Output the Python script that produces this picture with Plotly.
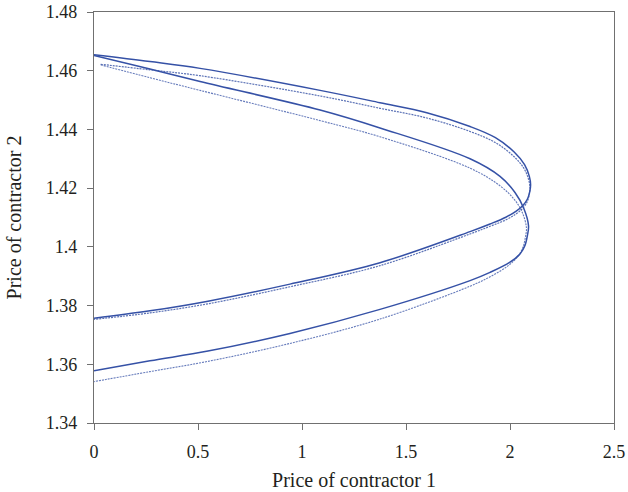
import plotly.graph_objects as go

# Strand A (outer loop, upper strand 1 -> outer tip -> lower band)
outer_a_x = [0.0, 0.269, 0.510, 1.087, 1.375, 1.600, 1.808, 1.930, 2.020, 2.070, 2.093, 2.099,
             2.095, 2.084, 2.062, 2.030, 1.980, 1.904, 1.808, 1.375, 0.942, 0.548, 0.269, 0.0]
outer_a_y = [1.4654, 1.4631, 1.4608, 1.4533, 1.4491, 1.4457, 1.4410, 1.4372, 1.4323, 1.4280, 1.4240, 1.4212,
             1.4188, 1.4163, 1.4141, 1.4122, 1.4101, 1.4078, 1.4052, 1.3946, 1.3873, 1.3815, 1.3782, 1.3757]

# Strand B (outer loop, upper strand 2)
outer_b_x = [0.032, 0.269, 0.510, 1.087, 1.375, 1.600, 1.808, 1.930, 2.020, 2.068, 2.090, 2.096,
             2.092, 2.081, 2.059, 2.027, 1.977, 1.904, 1.808, 1.375, 0.942, 0.548, 0.269, 0.0]
outer_b_y = [1.4622, 1.4603, 1.4583, 1.4514, 1.4472, 1.4439, 1.4393, 1.4355, 1.4307, 1.4266, 1.4228, 1.4200,
             1.4176, 1.4151, 1.4130, 1.4111, 1.4091, 1.4070, 1.4044, 1.3936, 1.3864, 1.3806, 1.3775, 1.3753]

# Strand C (inner loop, solid)
inner_c_x = [0.0, 0.269, 0.510, 1.087, 1.375, 1.808, 1.952, 2.024, 2.067, 2.089, 2.084, 2.072, 2.048, 2.000, 1.904, 1.808, 1.375, 0.942, 0.548, 0.269, 0.0]
inner_c_y = [1.4652, 1.4606, 1.4563, 1.4466, 1.4405, 1.4300, 1.4240, 1.4185, 1.4130, 1.4072, 1.4040, 1.4005, 1.3976, 1.3948, 1.3913, 1.3885, 1.3787, 1.3705, 1.3645, 1.3612, 1.3578]

# Strand D (inner loop, speckled)
inner_d_x = [0.032, 0.269, 0.510, 1.087, 1.375, 1.808, 1.952, 2.019, 2.058, 2.079, 2.074, 2.062, 2.038, 1.990, 1.904, 1.808, 1.375, 0.942, 0.548, 0.269, 0.0]
inner_d_y = [1.4620, 1.4576, 1.4533, 1.4430, 1.4375, 1.4268, 1.4208, 1.4163, 1.4119, 1.4065, 1.4033, 1.3998, 1.3968, 1.3935, 1.3898, 1.3866, 1.3754, 1.3671, 1.3610, 1.3575, 1.3541]

x_ticks = [0, 0.5, 1, 1.5, 2, 2.5]
x_tick_labels = ["0", "0.5", "1", "1.5", "2", "2.5"]
y_ticks = [1.34, 1.36, 1.38, 1.40, 1.42, 1.44, 1.46, 1.48]
y_tick_labels = ["1.34", "1.36", "1.38", "1.4", "1.42", "1.44", "1.46", "1.48"]

BLUE = "#3551a6"

fig = go.Figure()
strands = [
    (outer_a_x, outer_a_y, 1.5, "solid", 1.0),
    (outer_b_x, outer_b_y, 1.2, "2px,1px", 0.8),
    (inner_c_x, inner_c_y, 1.5, "solid", 1.0),
    (inner_d_x, inner_d_y, 1.1, "2px,1px", 0.75),
]
for xs, ys, w, dash, op in strands:
    fig.add_trace(go.Scatter(
        x=xs, y=ys, mode="lines",
        line=dict(color=BLUE, width=w, dash=dash, shape="spline", smoothing=1.0),
        opacity=op, showlegend=False, hoverinfo="skip",
    ))

FONT = "Liberation Serif"
axis_common = dict(
    showgrid=False, zeroline=False, automargin=False,
    showline=True, linecolor="#707070", linewidth=1.2, mirror=True,
    ticks="outside", ticklen=6, tickcolor="#707070", tickwidth=1.2,
    tickfont=dict(family=FONT, size=18, color="#231f20"),
)

fig.update_layout(
    width=628, height=492,
    margin=dict(l=94, r=14, t=12, b=69),
    paper_bgcolor="white", plot_bgcolor="white",
    xaxis=dict(
        range=[0, 2.5], tickvals=x_ticks, ticktext=x_tick_labels,
        title=dict(text="Price of contractor 1", font=dict(family=FONT, size=20, color="#231f20"), standoff=12),
        ticklabelstandoff=6,
        **axis_common,
    ),
    yaxis=dict(
        range=[1.34, 1.48], tickvals=y_ticks, ticktext=y_tick_labels,
        title=dict(text="Price of contractor 2", font=dict(family=FONT, size=20, color="#231f20"), standoff=18),
        ticklabelstandoff=6,
        **axis_common,
    ),
)

fig.write_html("out.html")
